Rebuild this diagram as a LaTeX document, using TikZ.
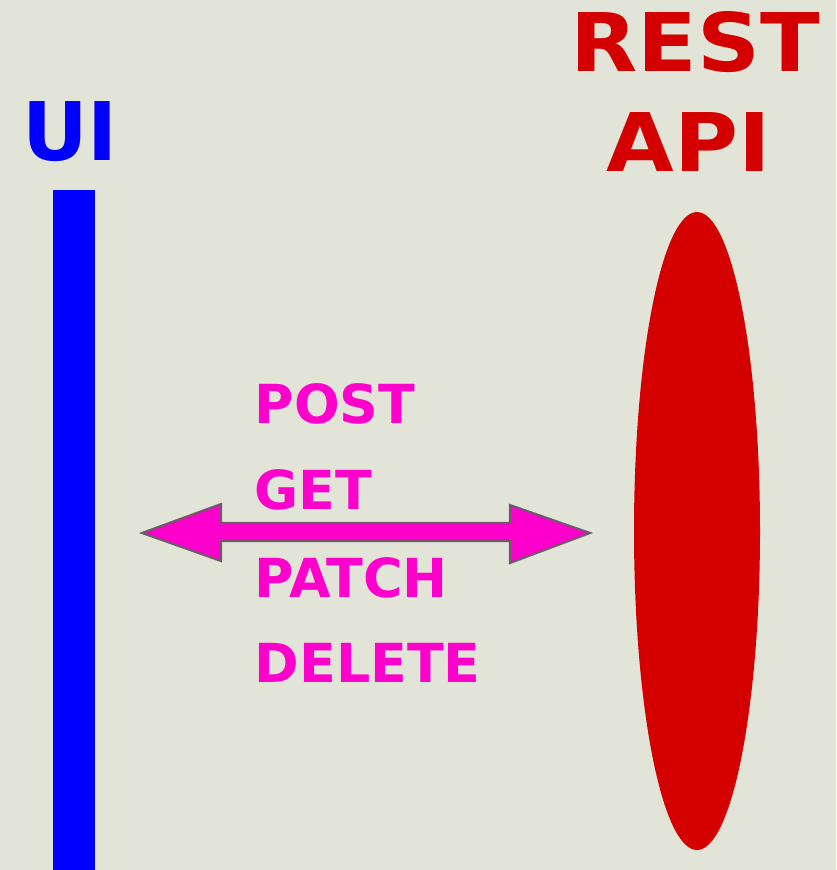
\documentclass[tikz,border=0pt]{standalone}
\usepackage{fontspec}
\setmainfont{DejaVu Sans}
\newfontfamily\widesans[FakeStretch=1.08]{DejaVu Sans}
\definecolor{bgpaper}{HTML}{E3E4D8}
\definecolor{uiblue}{HTML}{0000FF}
\definecolor{apired}{HTML}{D40000}
\definecolor{verbmag}{HTML}{FF00CC}
\definecolor{arrowrim}{HTML}{6E5A6A}
\begin{document}
\begin{tikzpicture}[x=0.01cm,y=-0.01cm,
  verb/.style={text=verbmag,font=\fontsize{15.3}{15.3}\selectfont\bfseries,anchor=base west,inner sep=0pt},
  title/.style={font=\fontsize{23}{23}\selectfont\bfseries,anchor=base,inner sep=0pt}]
\fill[bgpaper] (0,0) rectangle (836,870);
\useasboundingbox (0,0) rectangle (836,870);
% UI side
\fill[uiblue] (53,190) rectangle (95,870);
\node[title,text=uiblue] (ui) at (70,161) {UI};
% REST API side
\fill[apired] (697,531) ellipse [x radius=63,y radius=319];
\node[title,text=apired,font=\fontsize{23}{23}\widesans\bfseries] (rest) at (695,72) {REST};
\node[title,text=apired,font=\fontsize{23}{23}\widesans\bfseries] (api) at (689,172) {API};
% double arrow
\filldraw[fill=verbmag,draw=arrowrim,line width=0.6pt,line join=miter]
  (142,533) -- (221,504) -- (221,523) -- (510,523) -- (510,505) -- (590,533)
  -- (510,563) -- (510,541) -- (221,541) -- (221,561) -- cycle;
% verbs
\node[verb] (post) at (254,423) {POST};
\node[verb] (get) at (254,509) {GET};
\node[verb] (patch) at (254,597) {PATCH};
\node[verb] (delete) at (254,682) {DELETE};
\end{tikzpicture}
\end{document}
